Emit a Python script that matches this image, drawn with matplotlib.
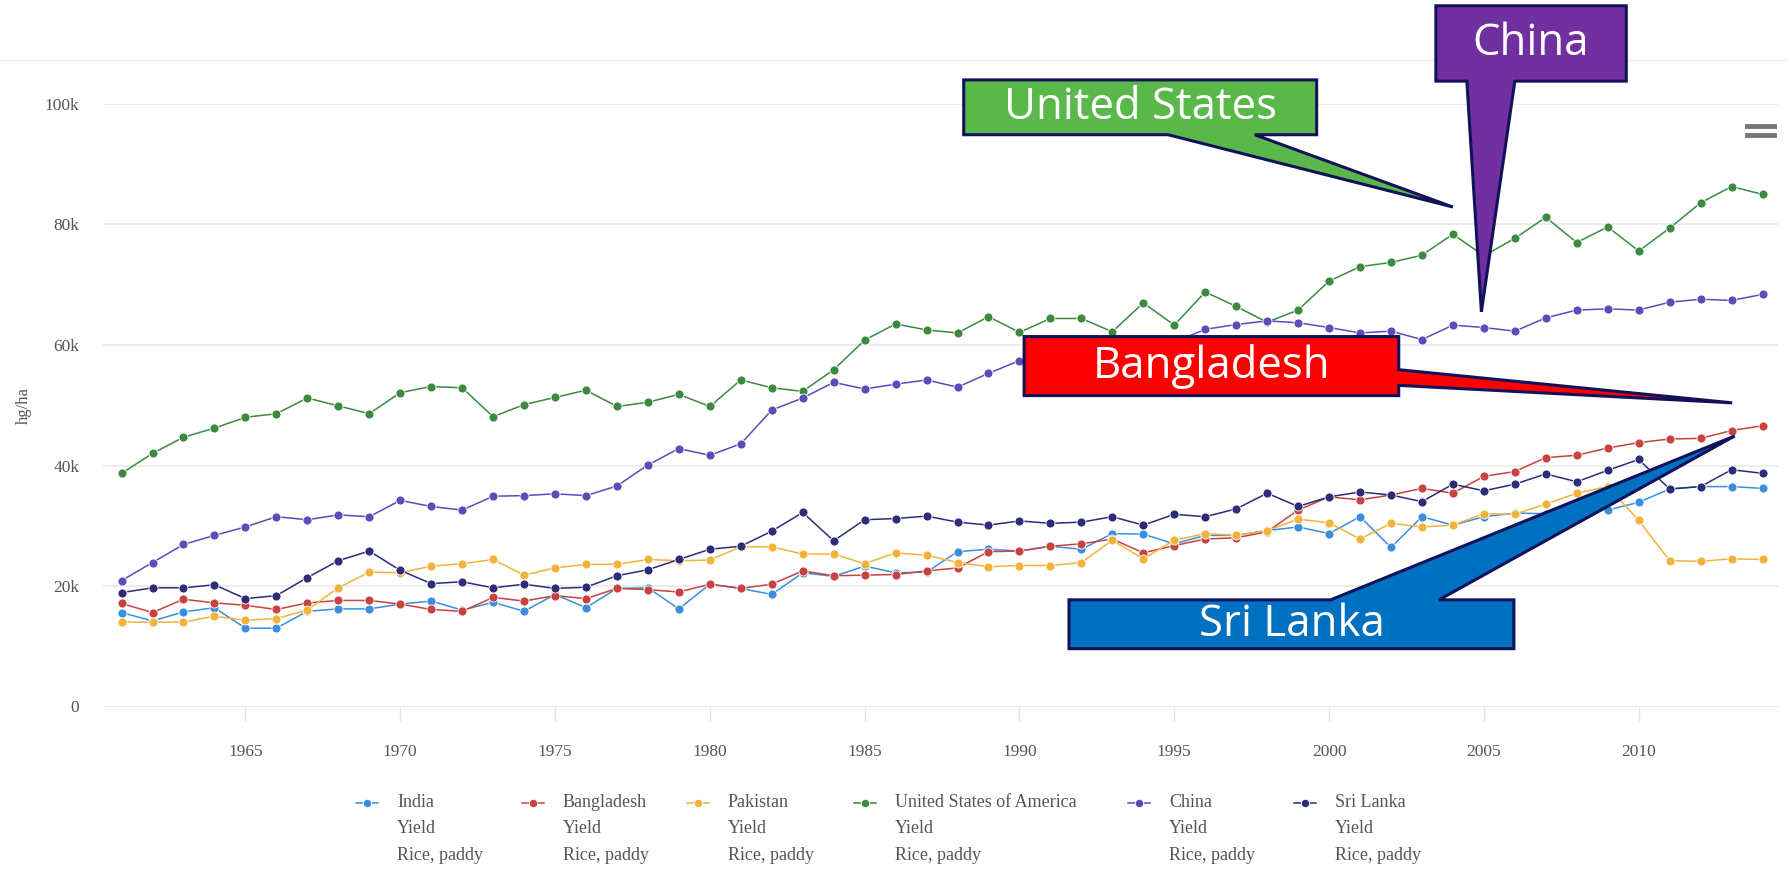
import numpy as np
import matplotlib
matplotlib.use("Agg")
import matplotlib.pyplot as plt
from matplotlib.patches import Polygon
from matplotlib.lines import Line2D
from matplotlib.ticker import FuncFormatter

# Rice, paddy yield (hg/ha), in thousands
years = np.arange(1961, 2015)

india = [15.6, 14.2, 15.7, 16.4, 13.0, 13.0, 15.8, 16.2, 16.2, 17.0,
         17.5, 16.0, 17.3, 15.8, 18.6, 16.4, 19.6, 19.7, 16.2, 20.3,
         19.6, 18.6, 22.2, 21.6, 23.3, 22.2, 22.3, 25.7, 26.1, 25.8,
         26.6, 26.1, 28.7, 28.6, 27.0, 28.4, 28.4, 29.2, 29.8, 28.7,
         31.5, 26.4, 31.5, 30.1, 31.5, 32.1, 32.0, 33.5, 32.6, 33.9,
         36.1, 36.5, 36.5, 36.2]
bangladesh = [17.1, 15.6, 17.8, 17.2, 16.8, 16.1, 17.2, 17.6, 17.6, 17.0,
              16.1, 15.8, 18.1, 17.5, 18.4, 17.9, 19.6, 19.4, 19.0, 20.3,
              19.6, 20.3, 22.5, 21.7, 21.8, 21.9, 22.5, 23.0, 25.7, 25.8,
              26.6, 27.0, 27.8, 25.5, 26.7, 27.8, 28.0, 29.0, 32.6, 34.8,
              34.3, 35.1, 36.2, 35.4, 38.2, 39.0, 41.3, 41.7, 42.9, 43.8,
              44.4, 44.5, 45.8, 46.6]
pakistan = [14.0, 14.0, 14.0, 15.0, 14.3, 14.6, 16.0, 19.7, 22.3, 22.2,
            23.3, 23.7, 24.4, 21.8, 23.0, 23.6, 23.6, 24.4, 24.2, 24.3,
            26.5, 26.5, 25.3, 25.3, 23.7, 25.5, 25.1, 23.9, 23.2, 23.4,
            23.4, 23.9, 27.6, 24.5, 27.6, 28.7, 28.4, 29.2, 31.1, 30.5,
            27.8, 30.4, 29.8, 30.1, 32.0, 31.9, 33.6, 35.4, 36.5, 30.9,
            24.2, 24.1, 24.5, 24.4]
usa = [38.7, 42.0, 44.7, 46.2, 48.0, 48.6, 51.2, 49.9, 48.6, 52.1,
       53.1, 52.9, 48.1, 50.1, 51.3, 52.5, 49.8, 50.5, 51.8, 49.8,
       54.2, 52.9, 52.3, 55.9, 60.8, 63.5, 62.5, 62.0, 64.7, 62.1,
       64.4, 64.4, 62.2, 67.0, 63.3, 68.8, 66.4, 63.8, 65.8, 70.6,
       73.0, 73.7, 74.9, 78.4, 74.8, 77.7, 81.2, 77.0, 79.6, 75.6,
       79.4, 83.6, 86.3, 85.0]
china = [20.9, 23.9, 26.9, 28.4, 29.8, 31.5, 31.0, 31.8, 31.5, 34.2,
         33.2, 32.6, 34.9, 35.0, 35.3, 35.0, 36.6, 40.1, 42.8, 41.7,
         43.6, 49.2, 51.2, 53.8, 52.7, 53.5, 54.2, 53.0, 55.3, 57.4,
         58.5, 59.5, 60.0, 59.8, 60.5, 62.6, 63.4, 64.0, 63.7, 62.9,
         62.0, 62.3, 60.9, 63.3, 62.9, 62.3, 64.5, 65.8, 66.0, 65.8,
         67.1, 67.6, 67.4, 68.4]
sri_lanka = [18.9, 19.7, 19.7, 20.2, 17.9, 18.4, 21.4, 24.2, 25.8, 22.6,
             20.4, 20.7, 19.7, 20.3, 19.6, 19.8, 21.7, 22.7, 24.4, 26.1,
             26.6, 29.1, 32.2, 27.5, 31.0, 31.2, 31.6, 30.6, 30.1, 30.8,
             30.4, 30.6, 31.5, 30.1, 31.9, 31.5, 32.8, 35.4, 33.2, 34.8,
             35.6, 35.1, 34.0, 36.9, 35.8, 36.9, 38.6, 37.3, 39.2, 41.0,
             36.1, 36.5, 39.3, 38.7]

names = ["India", "Bangladesh", "Pakistan", "United States of America", "China", "Sri Lanka"]
series = [india, bangladesh, pakistan, usa, china, sri_lanka]
colors = ["#3b8ede", "#c8423f", "#f2b33d", "#3c8a3f", "#5b4cb8", "#2c2c78"]

serif = ["Liberation Serif", "DejaVu Serif"]
W, H = 1787, 869
fig = plt.figure(figsize=(W / 100, H / 100), dpi=100)
fig.patch.set_facecolor("white")
ax = fig.add_axes([103 / W, (H - 706.5) / H, 1675 / W, (706.5 - 104) / H])
ax.set_facecolor("white")

for name, vals, c in zip(names, series, colors):
    ax.plot(years, np.array(vals) * 1000, color=c, lw=1.1, marker="o", ms=6.5,
            mec="white", mew=0.6, zorder=3)

ax.set_xlim(1960.4, 2014.5)
ax.set_ylim(0, 100000)
ax.set_yticks(np.arange(0, 100001, 20000))
ax.yaxis.set_major_formatter(FuncFormatter(lambda v, p: "0" if v == 0 else f"{int(v / 1000)}k"))
ax.set_xticks(np.arange(1965, 2011, 5))
ax.grid(axis="y", color="#ebebeb", lw=1.3)
ax.set_axisbelow(True)
for s in ax.spines.values():
    s.set_visible(False)
ax.tick_params(axis="y", length=0, pad=17, labelsize=12.5, labelcolor="#555555")
ax.tick_params(axis="x", length=10, width=1, color="#e6e6e6", pad=17, labelsize=12.5,
               labelcolor="#555555")
for lab in ax.get_xticklabels() + ax.get_yticklabels():
    lab.set_family(serif)
ax.set_ylabel("hg/ha", family=serif, fontsize=12, color="#555555", labelpad=9)

# callouts (box corners, tail base and tip in data units: year, hg/ha)
edge = "#12125a"
us_poly = [(1988.2, 104000), (1999.6, 104000), (1999.6, 94900), (1997.6, 94900),
           (2004.0, 82900), (1994.8, 94900), (1988.2, 94900)]
china_poly = [(2003.45, 116300), (2009.6, 116300), (2009.6, 103800), (2006.0, 103800),
              (2004.92, 65500), (2004.45, 103800), (2003.45, 103800)]
bd_poly = [(1990.15, 61400), (2002.25, 61400), (2002.25, 55900), (2013.02, 50400),
           (2002.25, 53300), (2002.25, 51600), (1990.15, 51600)]
sl_poly = [(1991.6, 17700), (2000.05, 17700), (2013.1, 44900), (2003.55, 17700),
           (2005.97, 17700), (2005.97, 9600), (1991.6, 9600)]

callouts = [
    ("United States", us_poly, "#5ab84a", (1993.9, 99450)),
    ("China", china_poly, "#7030a0", (2006.52, 110050)),
    ("Bangladesh", bd_poly, "#ff0000", (1996.2, 56500)),
    ("Sri Lanka", sl_poly, "#0070c0", (1998.8, 13650)),
]
for label, pts, fc, center in callouts:
    ax.add_patch(Polygon(pts, closed=True, facecolor=fc, edgecolor=edge, lw=2.2,
                         clip_on=False, zorder=10, joinstyle="miter"))
    ax.text(center[0], center[1], label, ha="center", va="center", color="white",
            fontsize=31.5, family=["Open Sans", "DejaVu Sans"], zorder=11, clip_on=False)

# legend laid out like the plotly one: symbol, then three-line label
leg_marker_x = [367, 533, 698, 865, 1139, 1305]
leg_y = H - 803
for name, c, mx in zip(names, colors, leg_marker_x):
    fig.add_artist(Line2D([(mx - 11) / W, (mx + 11) / W], [leg_y / H, leg_y / H], color=c,
                          lw=1.1, transform=fig.transFigure))
    fig.add_artist(Line2D([mx / W], [leg_y / H], color=c, marker="o", ms=6,
                          mec="white", mew=0.6, transform=fig.transFigure))
    fig.text((mx + 30) / W, (leg_y + 9) / H, f"{name}\nYield\nRice, paddy", ha="left",
             va="top", fontsize=13, family=serif, color="#555555", linespacing=1.72)

# modebar icon and faint top rule
fig.add_artist(Line2D([1747 / W, 1774 / W], [(H - 126) / H] * 2, color="#777777", lw=3.5,
                      transform=fig.transFigure))
fig.add_artist(Line2D([1747 / W, 1774 / W], [(H - 135) / H] * 2, color="#777777", lw=3.5,
                      transform=fig.transFigure))
fig.add_artist(Line2D([0, 1], [(H - 60) / H] * 2, color="#f0f0f0", lw=1,
                      transform=fig.transFigure, zorder=-1))

fig.savefig("out.png", dpi=100, facecolor="white")
